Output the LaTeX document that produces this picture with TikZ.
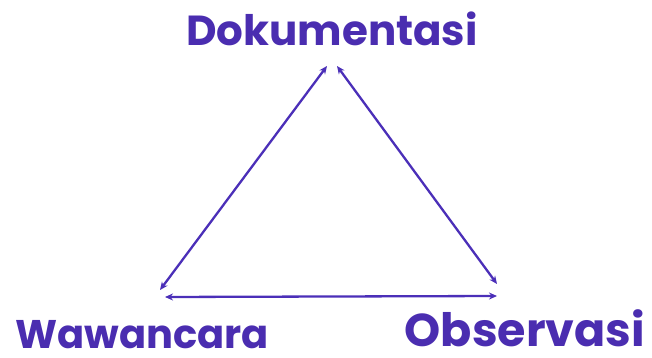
\documentclass[tikz,border=0pt]{standalone}
\usepackage{fontspec}
\setmainfont{Poppins}
\usetikzlibrary{positioning, arrows.meta, calc}
\definecolor{colorlabel}{HTML}{4A2DB0}
\definecolor{coloredge}{HTML}{4B2FB8}

\begin{document}
\begin{tikzpicture}[
    x=1pt, y=-1pt,
    % Style for the three method labels
    label/.style={
        text=colorlabel,
        font=\bfseries\fontsize{40}{44}\selectfont,
        inner sep=0pt,
        text depth=0pt,
        anchor=base
    },
    % Double-headed connector style
    arrow/.style={
        {Stealth[length=8pt, width=7pt]}-{Stealth[length=8pt, width=7pt]},
        coloredge,
        line width=2.3pt
    }
]
\useasboundingbox (0,0) rectangle (652,358);

% ==============================
% Labels
% ==============================
\node[label, font=\bfseries\fontsize{42}{46}\selectfont] (dok) at (332,46) {Dokumentasi};
\node[label] (waw) at (142,348) {Wawancara};
\node[label, font=\bfseries\fontsize{46}{50}\selectfont] (obs) at (525,346) {Observasi};

% ==============================
% Corners of the triangle
% ==============================
\coordinate (topl) at (327,66);
\coordinate (topr) at (337,66);
\coordinate (left) at (160,290);
\coordinate (lefth) at (165,297);
\coordinate (right) at (497,284);
\coordinate (righth) at (497,296);

% ==============================
% Arrows
% ==============================
\draw[arrow] (left) -- (topl);
\draw[arrow] (topr) -- (right);
\draw[arrow] (lefth) -- (righth);

\end{tikzpicture}
\end{document}
